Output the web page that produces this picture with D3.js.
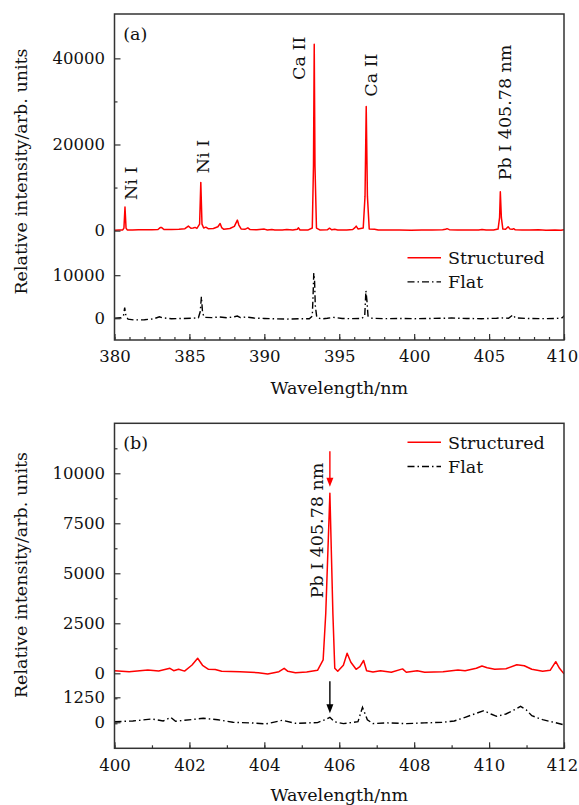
<!DOCTYPE html>
<html>
<head>
<meta charset="utf-8">
<script src="https://cdn.jsdelivr.net/npm/d3@7"></script>
<style>
  body { margin: 0; background: #fff; }
  svg { display: block; }
</style>
</head>
<body>
<div id="chart"></div>
<script>
// spectra: [wavelength nm, intensity]
var structuredA = [
  [380.0, 80], [380.3, 120], [380.55, 150], [380.63, 600], [380.7, 5500], [380.77, 600], [380.85, 150],
  [381.2, 120], [381.6, 180], [382.0, 200], [382.5, 180], [382.9, 250], [383.05, 700], [383.15, 700], [383.3, 250],
  [383.8, 250], [384.3, 300], [384.7, 450], [384.93, 1050], [385.1, 550], [385.25, 600], [385.38, 750], [385.5, 500],
  [385.68, 1500], [385.76, 11200], [385.84, 1500], [385.95, 600], [386.1, 800], [386.25, 450],
  [386.6, 500], [386.9, 900], [387.05, 1650], [387.15, 700], [387.3, 300], [387.7, 500], [388.0, 1000],
  [388.2, 2450], [388.3, 1300], [388.45, 400], [388.7, 300], [388.9, 650], [389.05, 250],
  [389.5, 200], [390.0, 350], [390.2, 150], [390.5, 280], [390.7, 150], [391.2, 150], [391.5, 250], [391.9, 120],
  [392.2, 300], [392.28, 650], [392.38, 150],
  [392.9, 120], [393.2, 600], [393.28, 15000], [393.33, 43300], [393.38, 15000], [393.48, 600], [393.7, 150],
  [394.2, 200], [394.35, 550], [394.5, 200], [394.7, 320], [394.9, 150],
  [395.5, 150], [395.9, 250], [396.05, 700], [396.13, 1050], [396.25, 400], [396.6, 600], [396.72, 8000],
  [396.8, 28800], [396.88, 8000], [397.0, 400], [397.36, 330], [397.6, 150],
  [398.2, 120], [399.0, 150], [399.8, 100], [400.5, 150], [401.2, 130], [401.9, 200], [402.1, 300], [402.19, 450],
  [402.35, 220], [402.9, 150], [403.6, 130], [404.3, 150], [404.53, 250], [404.8, 120],
  [405.3, 150], [405.6, 350], [405.7, 3000], [405.75, 9000], [405.82, 3000], [405.92, 350], [406.1, 300],
  [406.27, 900], [406.4, 350], [406.55, 300], [406.64, 450], [406.75, 200],
  [407.2, 150], [407.7, 120], [408.3, 180], [408.8, 100], [409.4, 150], [409.8, 100], [410.0, 180]
];

var flatA = [
  [380.0, 0], [380.45, 100], [380.6, 600], [380.68, 2500], [380.76, 600], [380.9, -200], [381.3, -400],
  [382.0, -350], [382.6, -150], [383.0, 350], [383.2, 100], [383.8, -100], [384.5, -50], [385.2, 0],
  [385.6, 100], [385.72, 1500], [385.8, 5000], [385.88, 1200], [386.0, 200], [386.5, 150], [387.0, 300],
  [387.5, 100], [388.0, 350], [388.2, 500], [388.4, 150], [388.8, 300], [389.3, 50], [390.0, -50],
  [390.8, -150], [391.5, -200], [392.3, -100], [393.0, -100], [393.2, 500], [393.25, 5000], [393.3, 10500],
  [393.35, 9000], [393.4, 3000], [393.5, 200], [393.8, -150], [394.2, 0], [394.6, 200], [395.2, -50],
  [395.8, -100], [396.5, -50], [396.7, 500], [396.78, 6400], [396.85, 4000], [396.92, 500], [397.2, 0],
  [398.0, -100], [399.0, -50], [400.0, -100], [401.0, -50], [402.0, 0], [402.5, 50], [403.5, -50],
  [404.5, -100], [405.5, 0], [405.8, 100], [406.3, 0], [406.6, 800], [406.75, 100], [407.5, -50],
  [408.5, -100], [409.5, -50], [409.9, 150], [410.0, 600]
];

var structuredB = [
  [400.0, 130], [400.39, 80], [400.89, 165], [401.18, 120], [401.48, 250], [401.58, 130], [401.71, 200],
  [401.87, 110], [402.07, 415], [402.22, 750], [402.35, 400], [402.51, 200], [402.69, 190], [402.86, 100],
  [403.35, 80], [403.84, 30], [404.09, -30], [404.39, 80], [404.53, 250], [404.63, 100], [404.83, 30],
  [405.13, 70], [405.42, 150], [405.57, 670], [405.64, 3000], [405.75, 9000], [405.83, 3000], [405.88, 250],
  [405.96, 100], [406.11, 400], [406.21, 1000], [406.31, 550], [406.45, 200], [406.55, 330], [406.65, 640],
  [406.73, 130], [406.9, 70], [407.1, 130], [407.39, 50], [407.69, 220], [407.79, 50], [408.08, 130],
  [408.28, 50], [408.77, 80], [409.17, 170], [409.36, 130], [409.66, 250], [409.81, 365], [409.95, 280],
  [410.15, 200], [410.45, 230], [410.74, 430], [410.94, 380], [411.14, 200], [411.43, 100], [411.63, 150],
  [411.78, 580], [411.88, 250], [412.0, -30]
];

var flatB = [
  [400.0, 30], [400.49, 65], [401.0, 165], [401.3, 65], [401.5, 250], [401.63, 50], [401.87, 100],
  [402.37, 200], [402.76, 130], [403.16, 0], [403.65, -30], [404.04, -80], [404.48, 100], [404.83, -50],
  [405.42, -15], [405.62, 130], [405.75, 250], [405.87, 30], [406.11, -65], [406.5, 30], [406.62, 750],
  [406.75, 130], [406.9, -65], [407.29, -30], [407.79, -65], [408.28, -30], [408.77, 0], [409.07, 65],
  [409.36, 250], [409.66, 450], [409.86, 580], [410.05, 415], [410.2, 300], [410.45, 415], [410.7, 650],
  [410.84, 800], [410.99, 630], [411.14, 330], [411.43, 130], [411.73, 0], [412.0, -130]
];

// tick values
var xMajorA = [380, 385, 390, 395, 400, 405, 410];
var yMajorA = [0, 20000, 40000];
var yMinorA = [10000, 30000];
var flatTicksA = [0, 10000];
var xMajorB = [400, 402, 404, 406, 408, 410, 412];
var yMajorB = [0, 2500, 5000, 7500, 10000];
var yMinorB = [-2500, -1250, 1250, 3750, 6250, 8750, 11250];
var flatTicksB = [0, 1250];

// line labels: [wavelength, text start value, dx px, text]
var labelsA = [
  [380.7, 7100, 12, "Ni I"],
  [385.8, 13300, 8, "Ni I"],
  [393.35, 35000, -10, "Ca II"],
  [396.85, 31100, 10, "Ca II"],
  [405.78, 11700, 10.5, "Pb I 405.78 nm"]
];

var W = 579, H = 805;
var font = "DejaVu Serif";
var fs = 17.5;
var tickFs = 16.5;

var svg = d3.select("#chart").append("svg")
  .attr("width", W)
  .attr("height", H)
  .attr("font-family", font)
  .attr("font-size", fs);

svg.append("rect").attr("width", W).attr("height", H).attr("fill", "white");

var L = 114.5, R = 564;

function panel(o) {
  var g = svg.append("g");
  var x = d3.scaleLinear().domain(o.xDom).range([L, R]);
  var y = d3.scaleLinear().domain(o.yDom).range([o.bottom, o.top]);
  var yF = d3.scaleLinear().domain([o.yDom[0] + o.offset, o.yDom[1] + o.offset]).range([o.bottom, o.top]);

  var clipId = "clip" + o.name;
  svg.append("clipPath").attr("id", clipId)
    .append("rect").attr("x", L).attr("y", o.top).attr("width", R - L).attr("height", o.bottom - o.top);

  var line = d3.line().x(d => x(d[0])).y(d => y(d[1]));
  var lineF = d3.line().x(d => x(d[0])).y(d => yF(d[1]));

  g.append("path")
    .attr("clip-path", "url(#" + clipId + ")")
    .attr("d", lineF(o.flat))
    .attr("fill", "none")
    .attr("stroke", "#000")
    .attr("stroke-width", 1.4)
    .attr("stroke-dasharray", "7,3,1.5,3");

  g.append("path")
    .attr("clip-path", "url(#" + clipId + ")")
    .attr("d", line(o.structured))
    .attr("fill", "none")
    .attr("stroke", "#ff0000")
    .attr("stroke-width", 1.5)
    .attr("stroke-linejoin", "round");

  // axes, ticks pointing inward
  function styleAxis(sel) {
    sel.attr("font-family", null).attr("font-size", tickFs);
    sel.select(".domain").remove();
    sel.selectAll(".tick line").attr("stroke", "#333").attr("stroke-width", 1.2);
    sel.selectAll(".tick text").attr("fill", "#111");
  }

  var xa = g.append("g")
    .attr("transform", "translate(0," + o.bottom + ")")
    .call(d3.axisBottom(x).tickValues(o.xMajor).tickSize(-6).tickPadding(10.5).tickFormat(d3.format("d")))
    .call(styleAxis);
  // last label sits at the page edge
  xa.selectAll(".tick text").filter(d => d === o.xDom[1]).attr("dx", -2);

  g.append("g")
    .attr("transform", "translate(0," + o.bottom + ")")
    .call(d3.axisBottom(x).tickValues(d3.range(o.xDom[0], o.xDom[1] + 1, 1)).tickSize(-3).tickFormat(""))
    .call(styleAxis);

  g.append("g")
    .attr("transform", "translate(" + L + ",0)")
    .call(d3.axisLeft(y).tickValues(o.yMajor).tickSize(-6).tickPadding(9.5).tickFormat(d3.format("d")))
    .call(styleAxis);
  g.append("g")
    .attr("transform", "translate(" + L + ",0)")
    .call(d3.axisLeft(y).tickValues(o.yMinor).tickSize(-3).tickFormat(""))
    .call(styleAxis);
  g.append("g")
    .attr("transform", "translate(" + L + ",0)")
    .call(d3.axisLeft(yF).tickValues(o.flatTicks).tickSize(-6).tickPadding(9.5).tickFormat(d3.format("d")))
    .call(styleAxis);

  // frame
  g.append("rect")
    .attr("x", L).attr("y", o.top)
    .attr("width", R - L).attr("height", o.bottom - o.top)
    .attr("fill", "none").attr("stroke", "#333").attr("stroke-width", 1.5);

  g.append("text")
    .attr("x", 123.3).attr("y", o.top + 26)
    .attr("fill", "#111")
    .text(o.tag);

  g.append("text")
    .attr("x", (L + R) / 2).attr("y", o.xTitleY)
    .attr("text-anchor", "middle")
    .attr("fill", "#111")
    .text("Wavelength/nm");

  g.append("text")
    .attr("transform", "translate(27," + o.yTitleC + ") rotate(-90)")
    .attr("text-anchor", "middle")
    .attr("fill", "#111")
    .text("Relative intensity/arb. units");

  // legend
  var lg = g.append("g");
  lg.append("line")
    .attr("x1", 407.5).attr("x2", 441).attr("y1", o.legY).attr("y2", o.legY)
    .attr("stroke", "#ff0000").attr("stroke-width", 1.5);
  lg.append("text").attr("x", 448).attr("y", o.legY + 6.3).attr("fill", "#111").text("Structured");
  lg.append("line")
    .attr("x1", 407.5).attr("x2", 441).attr("y1", o.legY + 24.2).attr("y2", o.legY + 24.2)
    .attr("stroke", "#000").attr("stroke-width", 1.4).attr("stroke-dasharray", "7,3,1.5,3");
  lg.append("text").attr("x", 448).attr("y", o.legY + 30.5).attr("fill", "#111").text("Flat");

  return { g: g, x: x, y: y, yF: yF };
}

var pa = panel({
  name: "a", tag: "(a)",
  xDom: [380, 410], yDom: [-25400, 50300], top: 14, bottom: 340, offset: 20350,
  structured: structuredA, flat: flatA,
  xMajor: xMajorA, yMajor: yMajorA, yMinor: yMinorA, flatTicks: flatTicksA,
  xTitleY: 394, yTitleC: 171.5, legY: 257.7
});

labelsA.forEach(function (d) {
  pa.g.append("text")
    .attr("transform", "translate(" + (pa.x(d[0]) + d[2]) + "," + pa.y(d[1]) + ") rotate(-90)")
    .attr("fill", "#111")
    .text(d[3]);
});

var pb = panel({
  name: "b", tag: "(b)",
  xDom: [400, 412], yDom: [-3750, 12500], top: 423.3, bottom: 748.3, offset: 2450,
  structured: structuredB, flat: flatB,
  xMajor: xMajorB, yMajor: yMajorB, yMinor: yMinorB, flatTicks: flatTicksB,
  xTitleY: 801, yTitleC: 575, legY: 442.3
});

// Pb line marker in (b)
var pbWl = 405.75;
pb.g.append("text")
  .attr("transform", "translate(" + (pb.x(pbWl) - 7) + "," + pb.y(3750) + ") rotate(-90)")
  .attr("fill", "#111")
  .text("Pb I 405.78 nm");

function arrow(g, x0, y0, y1, color) {
  g.append("line")
    .attr("x1", x0).attr("x2", x0).attr("y1", y0).attr("y2", y1 - 7)
    .attr("stroke", color).attr("stroke-width", 1.4);
  g.append("path")
    .attr("d", "M" + (x0 - 3.5) + "," + (y1 - 9) + "L" + (x0 + 3.5) + "," + (y1 - 9) + "L" + x0 + "," + y1 + "Z")
    .attr("fill", color);
}
arrow(pb.g, pb.x(pbWl), pb.y(11100), pb.y(9330), "#ff0000");
arrow(pb.g, pb.x(pbWl), pb.yF(2050), pb.yF(450), "#000");
</script>
</body>
</html>
